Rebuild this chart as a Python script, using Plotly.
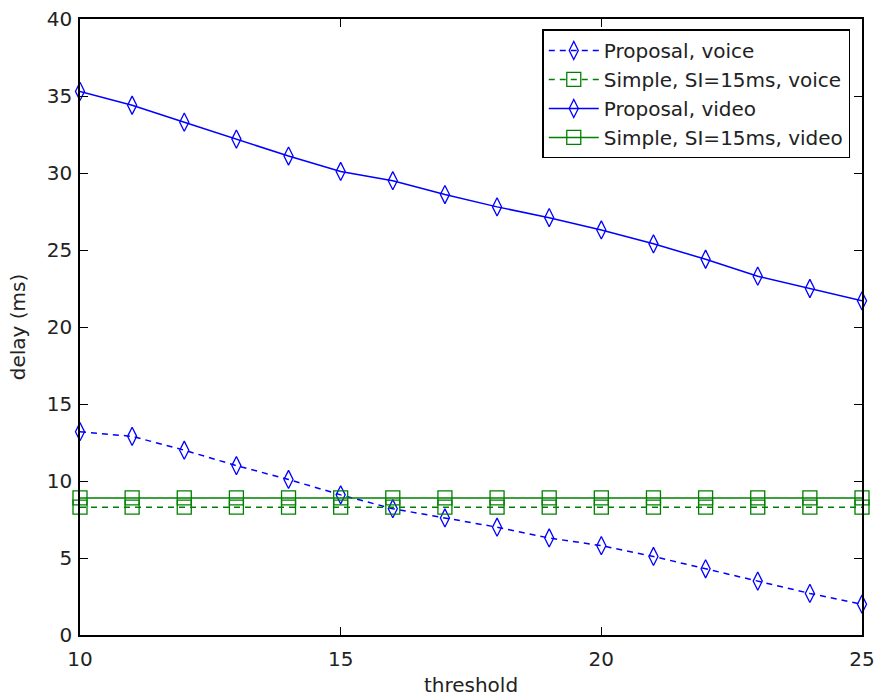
import plotly.graph_objects as go

threshold = list(range(10, 26))

proposal_voice = [13.2, 12.9, 12.0, 11.0, 10.1, 9.1, 8.2, 7.6, 7.0, 6.3, 5.8, 5.1, 4.3, 3.5, 2.7, 2.0]
simple_voice = [8.3] * 16
proposal_video = [35.3, 34.4, 33.3, 32.2, 31.1, 30.1, 29.5, 28.6, 27.8, 27.1, 26.3, 25.4, 24.4, 23.3, 22.5, 21.7]
simple_video = [8.9] * 16

x_ticks = [10, 15, 20, 25]
y_ticks = [0, 5, 10, 15, 20, 25, 30, 35, 40]

BLUE = "rgb(0,0,255)"
GREEN = "rgb(0,128,0)"
FONT = "DejaVu Sans, Verdana, sans-serif"
TEXT = "#222"

fig = go.Figure()

series = [
    ("Proposal, voice", proposal_voice, BLUE, "6px,5px", "diamond-tall-open", 13),
    ("Simple, SI=15ms, voice", simple_voice, GREEN, "6px,5px", "square-open", 14),
    ("Proposal, video", proposal_video, BLUE, "solid", "diamond-tall-open", 13),
    ("Simple, SI=15ms, video", simple_video, GREEN, "solid", "square-open", 14),
]

for name, vals, color, dash, symbol, size in series:
    fig.add_trace(go.Scatter(
        x=threshold, y=vals, name=name, mode="lines+markers",
        line=dict(color=color, width=1.5, dash=dash),
        marker=dict(symbol=symbol, size=size, color=color, line=dict(color=color, width=1.3)),
        cliponaxis=False,
    ))

axis_common = dict(
    showgrid=False, zeroline=False, showline=True, linecolor="black", linewidth=1.5,
    mirror="ticks", ticks="inside", ticklen=8, tickwidth=1.2, tickcolor="black",
    tickfont=dict(family=FONT, size=20, color=TEXT), automargin=False,
)

fig.update_xaxes(range=[10, 25], tickvals=x_ticks, ticklabelstandoff=5,
                 title=dict(text="threshold", font=dict(family=FONT, size=20, color=TEXT), standoff=8),
                 **axis_common)
fig.update_yaxes(range=[0, 40], tickvals=y_ticks, ticklabelstandoff=2,
                 title=dict(text="delay (ms)", font=dict(family=FONT, size=20, color=TEXT), standoff=16),
                 **axis_common)

fig.update_layout(
    width=877, height=698,
    margin=dict(l=80, r=15, t=19, b=63),
    paper_bgcolor="white", plot_bgcolor="white",
    font=dict(family=FONT, size=20, color=TEXT),
    legend=dict(
        x=0.985, y=0.983, xanchor="right", yanchor="top",
        bgcolor="white", bordercolor="black", borderwidth=1.5,
        font=dict(family=FONT, size=20, color=TEXT),
        itemwidth=50, tracegroupgap=0,
    ),
    showlegend=True,
)

fig.write_html("out.html")
